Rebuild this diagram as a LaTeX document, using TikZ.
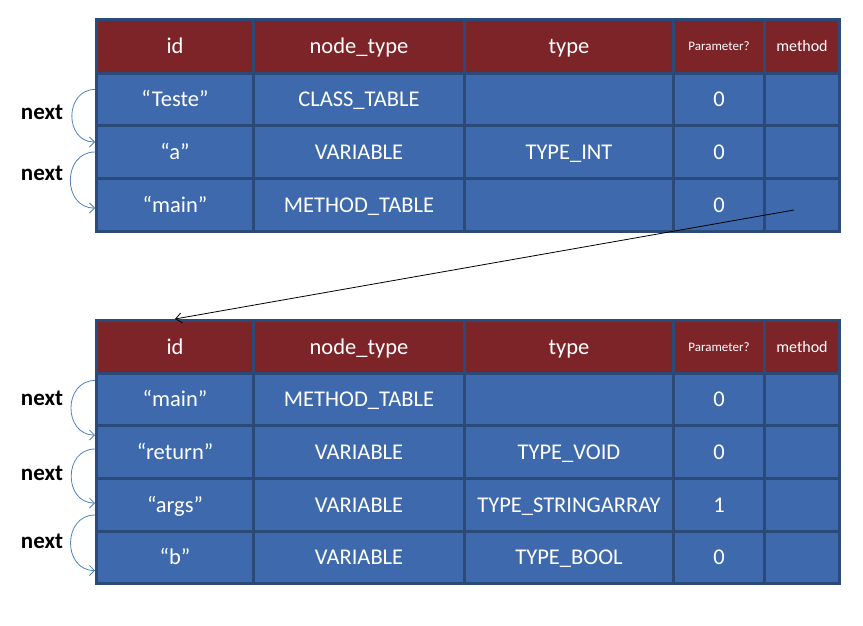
\documentclass[tikz,border=0pt]{standalone}
\usepackage{fontspec}
\setmainfont{Carlito}
\usetikzlibrary{arrows.meta}
\definecolor{hdrred}{RGB}{124,36,40}
\definecolor{cellblue}{RGB}{62,106,173}
\definecolor{gridblue}{RGB}{44,74,120}
\definecolor{linkblue}{RGB}{79,129,189}
\tikzset{
  cell/.style={draw=gridblue, line width=3pt, inner sep=0pt, text=white,
    font=\fontsize{22.5}{22.5}\selectfont, text height=14.3pt, text depth=0pt,
    anchor=north west},
  hcell/.style={cell, fill=hdrred},
  bcell/.style={cell, fill=cellblue},
  paramhdr/.style={font=\fontsize{13}{13}\selectfont, text height=8.6pt},
  methodhdr/.style={font=\fontsize{16}{16}\selectfont, text height=10.4pt},
  nextlabel/.style={font=\fontsize{23}{23}\selectfont\bfseries, text=black, inner sep=0pt},
  nextarc/.style={draw=linkblue, line width=0.8pt, -{Straight Barb[length=5pt,width=10pt]}},
  link/.style={draw=black, line width=0.8pt, -{Straight Barb[length=6pt,width=10pt]}}
}
\begin{document}
\begin{tikzpicture}[x=1pt,y=-1pt]
\useasboundingbox (0,0) rectangle (863,626);

% symbol table of the class
\foreach \x/\w/\t [count=\c] in {95/157/id, 252/211/node\_type, 463/209/type}
  \node[hcell, minimum width=\w, minimum height=54] (a0-\c) at (\x,18) {\t};
\node[hcell, paramhdr, minimum width=91, minimum height=54] (a0-4) at (672,18) {Parameter?};
\node[hcell, methodhdr, minimum width=75, minimum height=54] (a0-5) at (763,18) {method};
\foreach \x/\w/\t [count=\c] in {95/157/“Teste”, 252/211/CLASS\_TABLE, 463/209/, 672/91/0, 763/75/}
  \node[bcell, minimum width=\w, minimum height=52] (a1-\c) at (\x,72) {\t};
\foreach \x/\w/\t [count=\c] in {95/157/“a”, 252/211/VARIABLE, 463/209/TYPE\_INT, 672/91/0, 763/75/}
  \node[bcell, minimum width=\w, minimum height=53] (a2-\c) at (\x,124) {\t};
\foreach \x/\w/\t [count=\c] in {95/157/“main”, 252/211/METHOD\_TABLE, 463/209/, 672/91/0, 763/75/}
  \node[bcell, minimum width=\w, minimum height=53] (a3-\c) at (\x,177) {\t};

% symbol table of the method
\foreach \x/\w/\t [count=\c] in {95/157/id, 252/211/node\_type, 463/209/type}
  \node[hcell, minimum width=\w, minimum height=53] (b0-\c) at (\x,319) {\t};
\node[hcell, paramhdr, minimum width=91, minimum height=53] (b0-4) at (672,319) {Parameter?};
\node[hcell, methodhdr, minimum width=75, minimum height=53] (b0-5) at (763,319) {method};
\foreach \x/\w/\t [count=\c] in {95/157/“main”, 252/211/METHOD\_TABLE, 463/209/, 672/91/0, 763/75/}
  \node[bcell, minimum width=\w, minimum height=52] (b1-\c) at (\x,372) {\t};
\foreach \x/\w/\t [count=\c] in {95/157/“return”, 252/211/VARIABLE, 463/209/TYPE\_VOID, 672/91/0, 763/75/}
  \node[bcell, minimum width=\w, minimum height=53] (b2-\c) at (\x,424) {\t};
\foreach \x/\w/\t [count=\c] in {95/157/“args”, 252/211/VARIABLE, 463/209/TYPE\_STRINGARRAY, 672/91/1, 763/75/}
  \node[bcell, minimum width=\w, minimum height=53] (b3-\c) at (\x,477) {\t};
\foreach \x/\w/\t [count=\c] in {95/157/“b”, 252/211/VARIABLE, 463/209/TYPE\_BOOL, 672/91/0, 763/75/}
  \node[bcell, minimum width=\w, minimum height=52] (b4-\c) at (\x,530) {\t};

% next links, first table
\draw[nextarc] ([yshift=10pt]a1-1.west) to[out=180,in=180,looseness=1.5] ([yshift=10pt]a2-1.west);
\draw[nextarc] ([yshift=0pt]a2-1.west) to[out=180,in=180,looseness=1.5] ([yshift=-3pt]a3-1.west);
\node[nextlabel] (n1) at (42,112) {next};
\node[nextlabel] (n2) at (42,173) {next};

% next links, second table
\draw[nextarc] ([yshift=19pt]b1-1.west) to[out=180,in=180,looseness=1.5] ([yshift=17pt]b2-1.west);
\draw[nextarc] ([yshift=3pt]b2-1.west) to[out=180,in=180,looseness=1.5] ([yshift=2pt]b3-1.west);
\draw[nextarc] ([yshift=-10pt]b3-1.west) to[out=180,in=180,looseness=1.5] ([yshift=-13pt]b4-1.west);
\node[nextlabel] (n3) at (42,398) {next};
\node[nextlabel] (n4) at (42,473) {next};
\node[nextlabel] (n5) at (42,541) {next};

% method entry points to its own table
\draw[link] ([shift={(-8,5)}]a3-5.center) -- (b0-1.north);
\end{tikzpicture}
\end{document}
